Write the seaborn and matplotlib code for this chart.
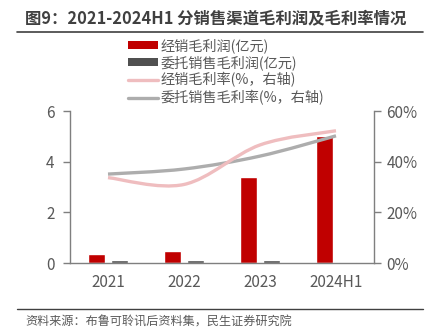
import numpy as np
import pandas as pd
import matplotlib
matplotlib.use("Agg")
import matplotlib.pyplot as plt
from matplotlib.path import Path
from matplotlib.patches import PathPatch
from matplotlib.lines import Line2D
from matplotlib.patches import Patch
import seaborn as sns

categories = ["2021", "2022", "2023", "2024H1"]
dist_profit = [0.36, 0.49, 3.39, 5.02]      # 经销毛利润(亿元)
cons_profit = [0.10, 0.10, 0.13, 0.04]      # 委托销售毛利润(亿元)
dist_margin = [33.7, 31.0, 46.6, 52.2]      # 经销毛利率(%)
cons_margin = [35.1, 37.1, 42.2, 50.2]      # 委托销售毛利率(%)
names = ["经销毛利润(亿元)", "委托销售毛利润(亿元)", "经销毛利率(%，右轴)", "委托销售毛利率(%，右轴)"]
left_ticks = [0, 2, 4, 6]
right_ticks = [0, 20, 40, 60]

sns.set_style("white")
plt.rcParams['font.family'] = ['Noto Sans CJK SC', 'DejaVu Sans']

RED = "#C00000"
DARK = "#505050"
PINK = "#EFBDBF"
GRAY = "#ADADAD"
AX = "#7F7F7F"
TXT = "#595959"

fig = plt.figure(figsize=(4.41, 3.34), dpi=100)
ax = fig.add_axes([70/441, 1-263/334, (374-70)/441, (263-111)/334])

df = pd.DataFrame({
    "cat": categories * 2,
    "val": dist_profit + cons_profit,
    "series": [names[0]] * 4 + [names[1]] * 4,
})
sns.barplot(data=df, x="cat", y="val", hue="series", palette=[RED, DARK],
            width=0.58, gap=0.23, ax=ax, legend=False, saturation=1)
ax.set_xlim(-0.5, 3.5)
ax.set_ylim(0, 6)
ax.set_yticks(left_ticks)
ax.set_yticklabels([str(t) for t in left_ticks])
ax.set_xlabel("")
ax.set_ylabel("")

ax2 = ax.twinx()
ax2.set_ylim(0, 60)
ax2.set_yticks(right_ticks)
ax2.set_yticklabels([f"{t}%" for t in right_ticks])


def smooth_path(xs, ys):
    pts = np.column_stack([xs, ys]).astype(float)
    n = len(pts)
    verts = [pts[0]]
    codes = [Path.MOVETO]
    for i in range(n - 1):
        p0 = pts[i - 1] if i > 0 else pts[i]
        p1 = pts[i]
        p2 = pts[i + 1]
        p3 = pts[i + 2] if i + 2 < n else pts[i + 1]
        c1 = p1 + (p2 - p0) / 6
        c2 = p2 - (p3 - p1) / 6
        verts += [c1, c2, p2]
        codes += [Path.CURVE4] * 3
    return Path(verts, codes)


xpos = np.arange(len(categories))
for vals, col in [(cons_margin, GRAY), (dist_margin, PINK)]:
    ax2.add_patch(PathPatch(smooth_path(xpos, vals), fill=False, edgecolor=col,
                            lw=2.4, capstyle="butt", zorder=3))

for a in (ax, ax2):
    for s in a.spines.values():
        s.set_color(AX)
        s.set_linewidth(1.0)
    a.spines["top"].set_visible(False)
ax.spines["right"].set_visible(False)
ax2.spines["left"].set_visible(False)
ax2.spines["bottom"].set_visible(False)

ax.tick_params(axis="y", direction="out", length=5, color=AX, labelsize=11,
               labelcolor=TXT, width=1, pad=6)
ax2.tick_params(axis="y", direction="out", length=5, color=AX, labelsize=11,
                labelcolor=TXT, width=1, pad=4)
ax.set_xticks(xpos)
ax.set_xticklabels(categories)
ax.set_xticks([-0.5, 0.5, 1.5, 2.5, 3.5], minor=True)
ax.tick_params(axis="x", which="major", length=0, labelsize=11, labelcolor=TXT, pad=8)
ax.tick_params(axis="x", which="minor", direction="out", length=5, color=AX, width=1)

handles = [
    Patch(facecolor=RED, edgecolor="none"),
    Patch(facecolor=DARK, edgecolor="none"),
    Line2D([], [], color=PINK, lw=2.4),
    Line2D([], [], color=GRAY, lw=2.4),
]
fig.legend(handles, names, loc="upper left", bbox_to_anchor=(128/441, 1-38/334),
           frameon=False, fontsize=10.2, labelcolor=TXT, handlelength=2.1,
           handleheight=0.5, handletextpad=0.2, labelspacing=0.17, borderaxespad=0,
           borderpad=0)

fig.text(25/441, 1-18/334, "图9：2021-2024H1 分销售渠道毛利润及毛利率情况",
         fontsize=11.8, fontweight="bold", color="#404040", va="center", ha="left")
fig.add_artist(Line2D([17/441, 423/441], [1-32/334, 1-32/334], color="#404040", lw=1.2))
fig.add_artist(Line2D([17/441, 423/441], [1-309/334, 1-309/334], color="#404040", lw=1.0))
fig.text(25/441, 1-322/334, "资料来源：布鲁可聆讯后资料集，民生证券研究院",
         fontsize=8.7, color=TXT, va="center", ha="left")

fig.savefig("out.png", dpi=100)
